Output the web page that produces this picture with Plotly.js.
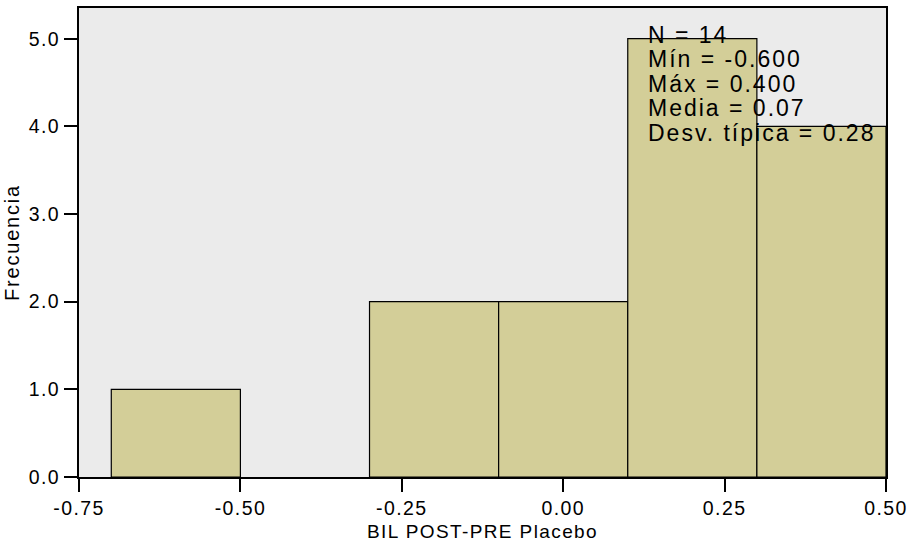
<!DOCTYPE html>
<html>
<head>
<meta charset="utf-8">
<script src="https://cdn.plot.ly/plotly-3.0.1.min.js"></script>
<style>
  html, body { margin: 0; padding: 0; background: #fff; }
  #chart { width: 912px; height: 543px; }
  .xtick text, .ytick text { letter-spacing: 1.4px; }
  text.xtitle { letter-spacing: 1.4px; }
  text.ytitle { letter-spacing: 1.8px; }
  .annotation-text { letter-spacing: 2px; }
</style>
</head>
<body>
<div id="chart"></div>
<script>
// Histogram bins (edges) and counts
var binStart = [-0.7, -0.3, -0.1, 0.1, 0.3];
var binEnd   = [-0.5, -0.1,  0.1, 0.3, 0.5];
var counts   = [1, 2, 2, 5, 4];

// Axis ticks and labels
var xTickVals = [-0.75, -0.5, -0.25, 0, 0.25, 0.5];
var xTickText = ["-0.75", "-0.50", "-0.25", "0.00", "0.25", "0.50"];
var yTickVals = [0, 1, 2, 3, 4, 5];
var yTickText = ["0.0", "1.0", "2.0", "3.0", "4.0", "5.0"];

// Statistics box lines
var statLines = [
  "N = 14",
  "Mín = -0.600",
  "Máx = 0.400",
  "Media = 0.07",
  "Desv. típica = 0.28"
];

var xTitle = "BIL POST-PRE Placebo";
var yTitle = "Frecuencia";

var centers = binStart.map(function (s, i) { return (s + binEnd[i]) / 2; });
var widths = binStart.map(function (s, i) { return binEnd[i] - s; });

var trace = {
  type: "bar",
  x: centers,
  y: counts,
  width: widths,
  marker: { color: "#D3CE98", line: { color: "#000000", width: 1.2 } },
  hoverinfo: "skip"
};

var font = "Liberation Sans, Arial, Helvetica, sans-serif";

// stat annotations, stacked lines
var lineStep = 24.5;   // px
var topPx = 34.5;      // px from figure top (center of first line)
var plotTop = 7.5, plotH = 469.5;
var yMax = 5.35;
var annotations = statLines.map(function (t, i) {
  var py = topPx + i * lineStep;
  var yVal = yMax * (1 - (py - plotTop) / plotH);
  return {
    x: 0.1285, y: yVal, xref: "x", yref: "y",
    xanchor: "left", yanchor: "middle",
    text: t, showarrow: false,
    font: { family: font, size: 23, color: "#000" }
  };
});

var layout = {
  width: 912, height: 543,
  margin: { l: 79, r: 26, t: 7.5, b: 66, pad: 0 },
  paper_bgcolor: "#ffffff",
  plot_bgcolor: "#EBEBEB",
  showlegend: false,
  bargap: 0,
  xaxis: {
    range: [-0.75, 0.5],
    tickvals: xTickVals,
    ticktext: xTickText,
    ticks: "outside", ticklen: 13, tickwidth: 2, tickcolor: "#000",
    showgrid: false, zeroline: false,
    showline: true, linecolor: "#000", linewidth: 2, mirror: true,
    tickfont: { family: font, size: 19.5, color: "#000" },
    title: { text: xTitle, font: { family: font, size: 19, color: "#000" }, standoff: 6 }
  },
  yaxis: {
    range: [0, yMax],
    tickvals: yTickVals,
    ticktext: yTickText,
    ticks: "outside", ticklen: 13, tickwidth: 2, tickcolor: "#000",
    showgrid: false, zeroline: false,
    showline: true, linecolor: "#000", linewidth: 2, mirror: true,
    tickfont: { family: font, size: 19.5, color: "#000" },
    ticklabelstandoff: 0,
    title: { text: yTitle, font: { family: font, size: 20, color: "#000" }, standoff: 4 }
  },
  annotations: annotations
};

Plotly.newPlot("chart", [trace], layout, { displayModeBar: false, staticPlot: true });
</script>
</body>
</html>
